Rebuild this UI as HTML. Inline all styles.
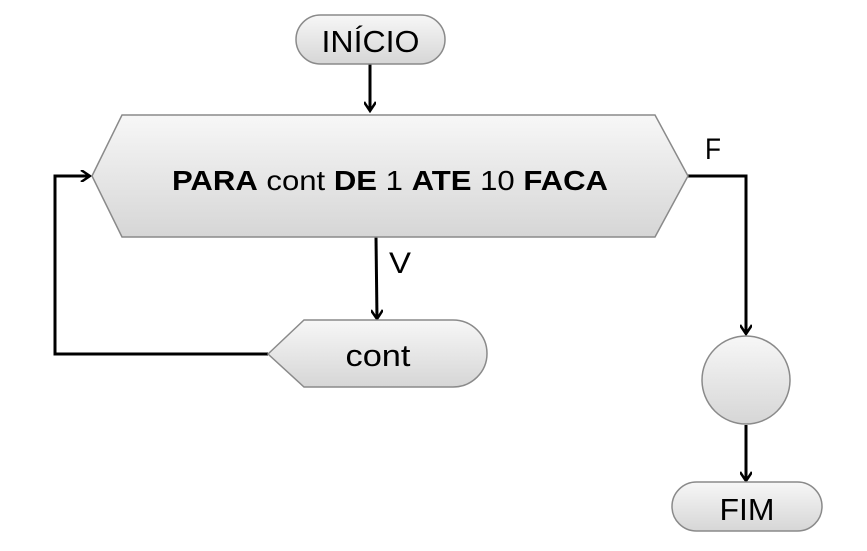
<!DOCTYPE html>
<html><head><meta charset="utf-8"><style>html,body{margin:0;padding:0;background:#fff}svg{display:block}</style></head>
<body>
<svg width="867" height="551" viewBox="0 0 867 551" xmlns="http://www.w3.org/2000/svg" font-family="Liberation Sans, sans-serif">
<defs>
<linearGradient id="g" x1="0" y1="0" x2="0" y2="1"><stop offset="0" stop-color="#f7f7f7"/><stop offset="1" stop-color="#d6d6d6"/></linearGradient>
<marker id="a" markerWidth="12" markerHeight="12" refX="10" refY="6" orient="auto" markerUnits="userSpaceOnUse"><path d="M1,0 L10,6 L1,12" fill="none" stroke="#000" stroke-width="2.5"/></marker>
</defs>
<g stroke="#000" stroke-width="3" fill="none">
<line x1="370" y1="64" x2="370" y2="111" marker-end="url(#a)"/>
<line x1="376" y1="237" x2="377" y2="319" marker-end="url(#a)"/>
<polyline points="268,354 55,354 55,176 90,176" marker-end="url(#a)"/>
<polyline points="688,176 746,176 746,334" marker-end="url(#a)"/>
<line x1="746" y1="425" x2="746" y2="481" marker-end="url(#a)"/>
</g>
<g fill="url(#g)" stroke="#8a8a8a" stroke-width="1.5">
<rect x="296" y="15" width="149" height="49" rx="24.5"/>
<polygon points="92,176 122,115 655,115 688,176 655,237 122,237"/>
<path d="M268,354 L304,320 L453,320 A34,33.5 0 0 1 453,387 L304,387 Z"/>
<circle cx="746" cy="380" r="44"/>
<rect x="672" y="482" width="150" height="49" rx="24.5"/>
</g>
<g font-size="28" fill="#000">
<text x="370.5" y="52" font-size="31" text-anchor="middle" textLength="98" lengthAdjust="spacingAndGlyphs">INÍCIO</text>
<text x="172" y="190" textLength="436" lengthAdjust="spacingAndGlyphs"><tspan font-weight="bold">PARA</tspan> cont <tspan font-weight="bold">DE</tspan> 1 <tspan font-weight="bold">ATE</tspan> 10 <tspan font-weight="bold">FACA</tspan></text>
<text x="378" y="366" font-size="31" text-anchor="middle" textLength="65" lengthAdjust="spacingAndGlyphs">cont</text>
<text x="747" y="520" font-size="31" text-anchor="middle" textLength="55" lengthAdjust="spacingAndGlyphs">FIM</text>
<text x="389" y="273" font-size="30" textLength="22" lengthAdjust="spacingAndGlyphs">V</text>
<text x="705" y="159" font-size="30" textLength="16" lengthAdjust="spacingAndGlyphs">F</text>
</g>
</svg>
</body></html>
